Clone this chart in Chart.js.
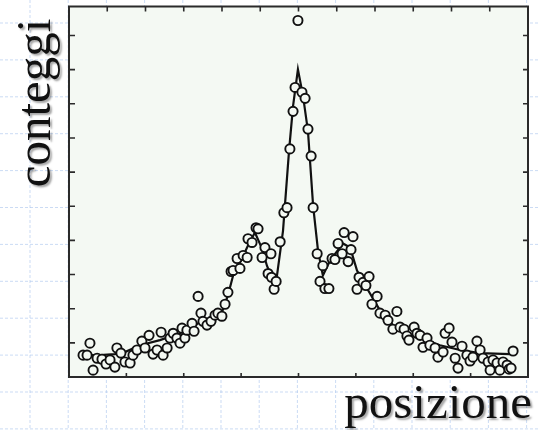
<!DOCTYPE html>
<html>
<head>
<meta charset="utf-8">
<script src="https://cdn.jsdelivr.net/npm/chart.js@4.4.1/dist/chart.umd.min.js"></script>
<style>
  html, body { margin: 0; padding: 0; background: #fff; }
  #box { width: 539px; height: 430px; }
</style>
</head>
<body>
<div id="box"><canvas id="grafico"></canvas></div>
<script>
// Dati misurati (posizione, conteggi)
const POSIZIONE = [4.9,6.3,7.3,8.4,9.8,11.5,12.9,14.3,16.0,16.7,
  18.1,19.5,21.3,22.3,23.7,25.4,26.5,27.9,29.3,30.7,
  32.1,32.8,34.2,35.2,36.3,37.6,38.7,39.4,40.4,41.1,
  42.9,43.6,45.0,46.0,46.7,48.1,49.5,50.9,51.9,53.3,
  54.4,55.4,56.5,57.2,58.6,59.6,60.7,62.1,62.4,63.8,
  65.2,65.9,67.3,68.3,69.4,70.4,70.6,71.5,72.2,73.6,
  74.9,76.0,77.0,78.1,78.8,79.8,81.2,82.3,83.3,84.4,
  85.1,86.5,87.5,88.5,89.2,90.6,91.7,92.7,93.8,95.2,
  95.9,97.3,98.3,99.0,100.4,101.1,102.5,103.5,104.6,105.6,
  107.4,108.4,110.2,111.2,112.9,114.3,115.4,116.8,117.8,118.5,
  120.3,121.3,122.4,123.4,124.8,125.8,127.6,128.6,130.4,131.1,
  132.5,133.5,134.6,135.6,137.0,138.7,139.8,140.8,142.2,143.3,
  144.3,146.1,146.8,147.8,149.2,150.2,151.3,152.7,153.4,154.1,
  154.8];
const CONTEGGI = [64,64,99,20,55,52,38,50,29,85,
  70,44,41,64,79,105,85,122,67,79,
  131,64,85,114,128,114,99,143,114,137,
  157,134,236,187,163,152,163,181,187,178,
  213,248,309,312,347,318,356,350,405,394,
  437,434,350,379,303,361,292,257,280,396,
  481,496,668,778,848,1044,834,816,726,647,
  496,361,280,326,259,259,347,344,391,361,
  423,338,373,411,257,292,277,268,294,213,
  236,187,181,166,140,192,146,140,120,108,
  146,128,122,87,114,93,85,58,73,128,
  143,102,55,26,90,64,47,58,105,79,
  55,44,20,50,41,20,44,35,23,26,
  76];

// Curva di fit
const FIT_POS = [5.2,10.8,16.0,19.5,24.8,31.7,38.7,45.7,50.9,53.3,
  55.4,57.2,59.6,62.4,64.8,67.3,69.0,70.8,72.5,74.6,
  76.7,78.1,79.8,81.6,83.3,85.1,86.8,88.5,91.0,95.5,
  98.0,100.4,103.9,108.4,112.9,117.1,122.4,129.3,136.3,143.3,
  153.7];
const FIT_VAL = [64,64,67,73,93,108,128,160,178,189,
  239,297,335,385,423,376,326,289,297,428,
  662,793,901,822,720,501,370,297,341,391,
  379,312,259,195,152,128,114,93,79,70,
  67];

// Assi
const X_MIN = 0, X_MAX = 160, X_PASSO = 20, X_PASSO_ALTO = 160 / 12;
const Y_MIN = 0, Y_MAX = 1085, Y_PASSO = 100;

const COLORE_AREA = '#f4f9f3';

// sfondo tipo foglio a quadretti + area del grafico
const sfondo = {
  id: 'sfondo',
  beforeDraw(chart) {
    const { ctx, width, height, chartArea: a } = chart;
    ctx.save();
    ctx.fillStyle = '#fff';
    ctx.fillRect(0, 0, width, height);
    ctx.strokeStyle = 'rgba(160,190,235,0.55)';
    ctx.lineWidth = 1;
    ctx.setLineDash([3, 2]);
    for (let x = 30; x < width; x += 38.2) {
      ctx.beginPath(); ctx.moveTo(x, 0); ctx.lineTo(x, height); ctx.stroke();
    }
    for (let y = 23; y < height; y += 36.9) {
      ctx.beginPath(); ctx.moveTo(0, y); ctx.lineTo(width, y); ctx.stroke();
    }
    ctx.setLineDash([]);
    ctx.fillStyle = COLORE_AREA;
    ctx.fillRect(a.left, a.top, a.right - a.left, a.bottom - a.top);
    ctx.restore();
  }
};

// cornice, tacche verso l'interno ed etichette
const cornice = {
  id: 'cornice',
  afterDraw(chart) {
    const { ctx, chartArea: a } = chart;
    const sx = chart.scales.x, sy = chart.scales.y;
    ctx.save();
    ctx.strokeStyle = '#2a2a2a';
    ctx.lineWidth = 2;
    ctx.strokeRect(a.left, a.top, a.right - a.left, a.bottom - a.top);
    ctx.lineWidth = 1.6;
    ctx.beginPath();
    for (let v = X_MIN + X_PASSO; v < X_MAX; v += X_PASSO) {
      const px = sx.getPixelForValue(v);
      ctx.moveTo(px, a.bottom); ctx.lineTo(px, a.bottom - 4);
    }
    for (let v = X_MIN + X_PASSO_ALTO; v < X_MAX - 0.01; v += X_PASSO_ALTO) {
      const px = sx.getPixelForValue(v);
      ctx.moveTo(px, a.top); ctx.lineTo(px, a.top + 5);
    }
    for (let v = Y_MIN + Y_PASSO; v < Y_MAX; v += Y_PASSO) {
      const py = sy.getPixelForValue(v);
      ctx.moveTo(a.left, py); ctx.lineTo(a.left + 6, py);
      ctx.moveTo(a.right, py); ctx.lineTo(a.right - 5, py);
    }
    ctx.stroke();

    ctx.font = '49px "Liberation Serif", "Times New Roman", serif';
    ctx.fillStyle = '#111';
    ctx.shadowColor = 'rgba(0,0,0,0.35)';
    ctx.shadowOffsetX = 2;
    ctx.shadowOffsetY = 2;
    ctx.shadowBlur = 2;
    ctx.textAlign = 'right';
    ctx.textBaseline = 'alphabetic';
    ctx.fillText('posizione', 532, 418);
    ctx.translate(50, 103);
    ctx.rotate(-Math.PI / 2);
    ctx.textAlign = 'center';
    ctx.fillText('conteggi', 0, 0);
    ctx.restore();
  }
};

new Chart(document.getElementById('grafico'), {
  type: 'scatter',
  data: {
    datasets: [
      {
        label: 'dati',
        data: POSIZIONE.map((p, i) => ({ x: p, y: CONTEGGI[i] })),
        pointRadius: 4.6,
        pointBorderWidth: 1.9,
        borderColor: '#111',
        backgroundColor: COLORE_AREA,
        order: 0
      },
      {
        type: 'line',
        label: 'fit',
        data: FIT_POS.map((p, i) => ({ x: p, y: FIT_VAL[i] })),
        borderColor: '#111',
        borderWidth: 2.2,
        pointRadius: 0,
        tension: 0,
        fill: false,
        order: 1
      }
    ]
  },
  options: {
    responsive: true,
    maintainAspectRatio: false,
    animation: false,
    layout: { padding: { left: 69, top: 5, right: 11, bottom: 53 } },
    plugins: { legend: { display: false }, tooltip: { enabled: false } },
    scales: {
      x: { type: 'linear', min: X_MIN, max: X_MAX, display: false },
      y: { type: 'linear', min: Y_MIN, max: Y_MAX, display: false }
    }
  },
  plugins: [sfondo, cornice]
});
</script>
</body>
</html>
